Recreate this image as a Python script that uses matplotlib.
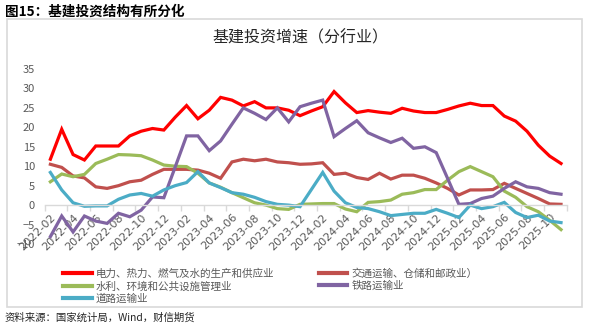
import numpy as np
import pandas as pd
import matplotlib.pyplot as plt
import matplotlib.patches as mpatches

plt.rcParams['font.family'] = ['Noto Sans CJK SC', 'DejaVu Sans']

# monthly categories, 2022-02 .. 2025-11
months = [p.strftime('%Y-%m') for p in pd.period_range('2022-02', '2025-11', freq='M')]

power = [11.8, 19.5, 13.0, 11.6, 15.2, 15.2, 15.2, 17.8, 19.0, 19.7, 19.3, 22.6,
         25.6, 22.2, 24.4, 27.7, 27.0, 25.5, 26.6, 25.0, 25.0, 24.4, 23.0, 24.2,
         25.3, 29.2, 26.3, 23.8, 24.3, 23.9, 23.6, 24.9, 24.2, 23.8, 23.8, 24.6,
         25.5, 26.2, 25.6, 25.6, 22.9, 21.6, 19.0, 15.4, 12.6, 10.7]
transport = [10.5, 9.7, 7.5, 7.0, 4.7, 4.3, 5.0, 6.0, 6.4, 7.9, 9.2, 9.2,
             9.2, 9.0, 8.2, 6.9, 11.1, 11.8, 11.4, 11.8, 11.1, 10.9, 10.5, 10.6,
             10.9, 7.9, 8.2, 7.1, 6.6, 8.2, 6.7, 7.7, 7.7, 6.9, 5.7, 4.3,
             2.6, 3.9, 3.9, 4.0, 5.6, 4.3, 3.0, 1.7, 0.3, 0.2]
water = [6.0, 8.0, 7.3, 7.9, 10.7, 11.8, 13.0, 12.9, 12.7, 11.6, 10.3, 10.0,
         9.9, 8.2, 5.7, 4.6, 3.2, 1.9, 0.6, 0.0, -0.9, -1.1, 0.2, 0.3,
         0.4, 0.4, -1.0, -1.7, 0.7, 0.9, 1.3, 2.8, 3.2, 4.0, 4.0, 6.4,
         8.6, 9.9, 8.6, 7.3, 3.6, 2.0, -0.4, -1.7, -3.9, -6.3]
railway = [-8.1, -2.8, -6.9, -2.8, -4.1, -4.7, -2.1, -3.0, -1.3, 2.1, 1.9, 9.8,
           17.8, 17.8, 14.0, 16.5, 20.8, 25.0, 23.6, 22.0, 25.0, 21.4, 25.3, 26.2,
           27.0, 17.6, 19.7, 21.7, 18.6, 17.3, 16.1, 17.2, 14.6, 15.0, 13.5, 6.9,
           0.2, 0.4, 1.7, 2.3, 4.3, 6.0, 4.7, 4.3, 3.2, 2.8]
road = [8.4, 3.9, 0.6, -0.3, -0.2, -0.2, 1.5, 2.6, 3.0, 2.3, 3.9, 5.0,
        5.8, 8.6, 5.7, 4.5, 3.2, 2.8, 2.0, 0.9, 0.2, 0.0, -0.4, 4.0,
        8.4, 3.6, 0.6, -0.6, -0.9, -1.7, -2.7, -2.4, -2.1, -2.1, -1.1, -2.1,
        -3.2, 0.0, -0.9, -0.4, 0.7, -1.9, -3.2, -2.6, -4.1, -4.5]

names = ['电力、热力、燃气及水的生产和供应业', '交通运输、仓储和邮政业）',
         '水利、环境和公共设施管理业', '铁路运输业', '道路运输业']
colors = ['#FF0000', '#C0504D', '#9BBB59', '#8064A2', '#4BACC6']
series = [power, transport, water, railway, road]

W, H = 612, 325
fig = plt.figure(figsize=(W / 100, H / 100), dpi=100)

# outer frame around the chart
fig.patches.append(mpatches.Rectangle((6.7 / W, 1 - 307.3 / H), 575.6 / W, 288 / H,
                                      transform=fig.transFigure, fill=False,
                                      edgecolor='#D9D9D9', lw=1.2))

fig.text(5 / W, 1 - 12 / H, '图15：基建投资结构有所分化', fontsize=9.8,
         fontweight='bold', color='black', va='center', ha='left')
fig.text(300 / W, 1 - 38 / H, '基建投资增速（分行业）', fontsize=11.5,
         color='#262626', va='center', ha='center')
fig.text(5 / W, 1 - 318 / H, '资料来源：国家统计局，Wind，财信期货', fontsize=7.5,
         color='#262626', va='center', ha='left', style='italic')

ax = fig.add_axes([44.7 / W, (H - 244) / H, 522 / W, 175 / H])
x = np.arange(len(months))
lines = []
for vals, c, n in zip(series, colors, names):
    ln, = ax.plot(x, vals, color=c, lw=2.3, label=n, solid_joinstyle='miter')
    lines.append(ln)

ax.set_xlim(-0.5, len(months) - 0.5)
ax.set_ylim(-10, 35)
ax.set_yticks(np.arange(-10, 36, 5))
ax.tick_params(axis='y', length=0, pad=7, labelsize=8, labelcolor='#595959')

for s in ['left', 'right', 'top']:
    ax.spines[s].set_visible(False)
ax.spines['bottom'].set_position(('data', 0))
ax.spines['bottom'].set_color('#D9D9D9')
ax.spines['bottom'].set_linewidth(1.0)

ax.set_xticks(x[::2])
ax.set_xticklabels(months[::2], rotation=45, ha='right', va='top',
                   rotation_mode='anchor', fontsize=8, color='#595959',
                   family='DejaVu Sans')
ax.tick_params(axis='x', which='major', length=0, pad=5)
ax.set_xticks(np.arange(-0.5, len(months), 2), minor=True)
ax.tick_params(axis='x', which='minor', length=4, color='#D9D9D9', width=1.0)

order = [0, 2, 4, 1, 3]
leg = fig.legend([lines[i] for i in order], [names[i] for i in order],
                 ncol=2, loc='upper left', bbox_to_anchor=(58 / W, 1 - 263 / H),
                 frameon=False, fontsize=7.6, handlelength=2.7, handletextpad=0.4,
                 columnspacing=4.2, labelspacing=0.2, borderpad=0)
for t in leg.get_texts():
    t.set_color('#595959')
for h in leg.legend_handles:
    h.set_linewidth(3)

fig.savefig('out.png', dpi=100)
